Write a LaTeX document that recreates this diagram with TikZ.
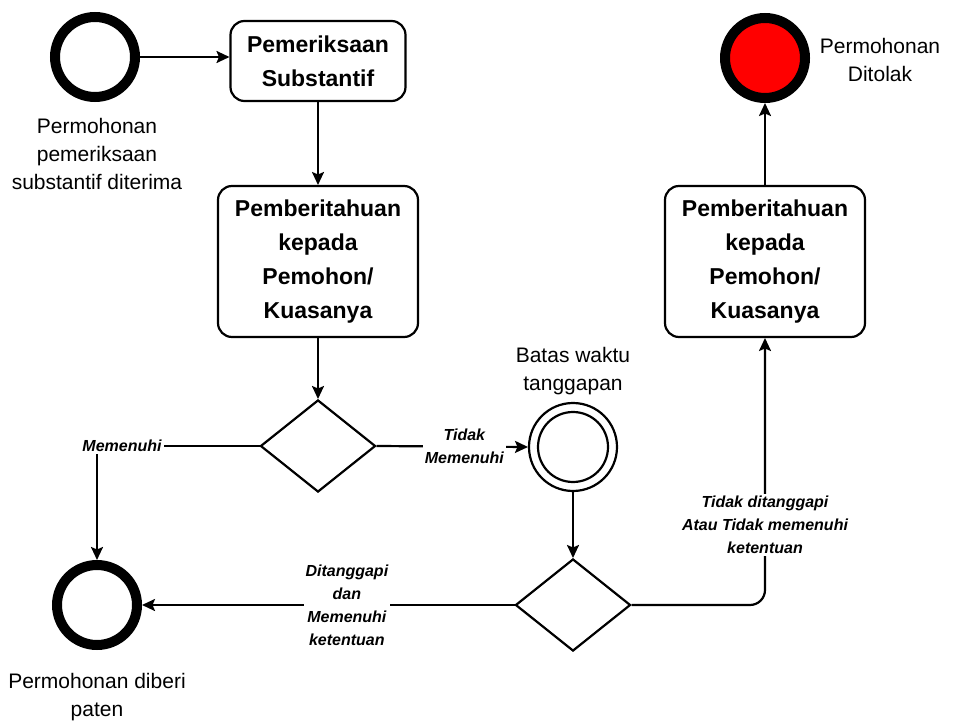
\documentclass[tikz,border=0pt]{standalone}
\usepackage{fontspec}
\setmainfont{Liberation Sans}
\usetikzlibrary{arrows.meta,shapes.geometric}

\begin{document}
\begin{tikzpicture}[x=1pt,y=-1pt,
  every node/.style={inner sep=0pt, outer sep=0pt},
  conn/.style={line width=2.2pt, -{Stealth[length=13pt,width=12pt,inset=2.5pt]}},
  box/.style={draw, line width=2.2pt, rounded corners=14pt, outer sep=1pt, align=center,
              font=\fontsize{23}{34}\selectfont\bfseries},
  ring/.style={circle, draw, line width=10pt, minimum size=80pt, outer sep=5pt},
  gate/.style={diamond, draw, line width=2.2pt, outer sep=1pt,
               minimum width=115pt, minimum height=92pt},
  lab/.style={font=\fontsize{21}{28}\selectfont, align=center},
  elab/.style={font=\fontsize{16}{23}\selectfont\bfseries\itshape, align=center,
               fill=white, inner sep=2pt}]
\useasboundingbox (0,0) rectangle (956,722);

% states and activities
\node[ring] (start) at (95,57) {};
\node[box, minimum width=175pt, minimum height=80pt] (exam) at (318,61)
  {Pemeriksaan\\Substantif};
\node[box, minimum width=200pt, minimum height=151pt] (noticeL) at (318,261.5)
  {Pemberitahuan\\kepada\\Pemohon/\\Kuasanya};
\node[gate] (d1) at (318,446) {};
\node[circle, draw, line width=2.2pt, minimum size=88pt, outer sep=1pt] (timer) at (573,447) {};
\draw[line width=2.2pt] (timer.center) circle[radius=35pt];
\node[gate] (d2) at (573,605) {};
\node[ring] (granted) at (97,605) {};
\node[box, minimum width=200pt, minimum height=151pt] (noticeR) at (765,261.5)
  {Pemberitahuan\\kepada\\Pemohon/\\Kuasanya};
\node[ring, fill=red] (rejected) at (765,58) {};

% captions
\node[lab] (startlab) at (97,154) {Permohonan\\pemeriksaan\\substantif diterima};
\node[lab] (rejlab) at (880,60) {Permohonan\\Ditolak};
\node[lab] (timerlab) at (573,371) {Batas waktu\\tanggapan};
\node[lab] (grantlab) at (97,697) {Permohonan diberi\\paten};

% flow
\draw[conn] (start.east) -- (start.east -| exam.west);
\draw[conn] (exam.south) -- (noticeL.north);
\draw[conn] (noticeL.south) -- (d1.north);
\draw[conn] (d1.west) -| node[pos=0.5, xshift=25pt, elab] {Memenuhi} (granted.north);
\draw[conn] (d1.east) -- node[pos=0.58, elab] {Tidak\\Memenuhi} (timer.west);
\draw[conn] (timer.south) -- (d2.north);
\draw[conn] (d2.west) -- node[pos=0.45, elab] {Ditanggapi\\dan\\Memenuhi\\ketentuan} (granted.east);
\draw[conn, rounded corners=15pt] (d2.east) -| node[pos=0.65, elab]
  {Tidak ditanggapi\\Atau Tidak memenuhi\\ketentuan} (noticeR.south);
\draw[conn] (noticeR.north) -- (rejected.south);
\end{tikzpicture}
\end{document}
